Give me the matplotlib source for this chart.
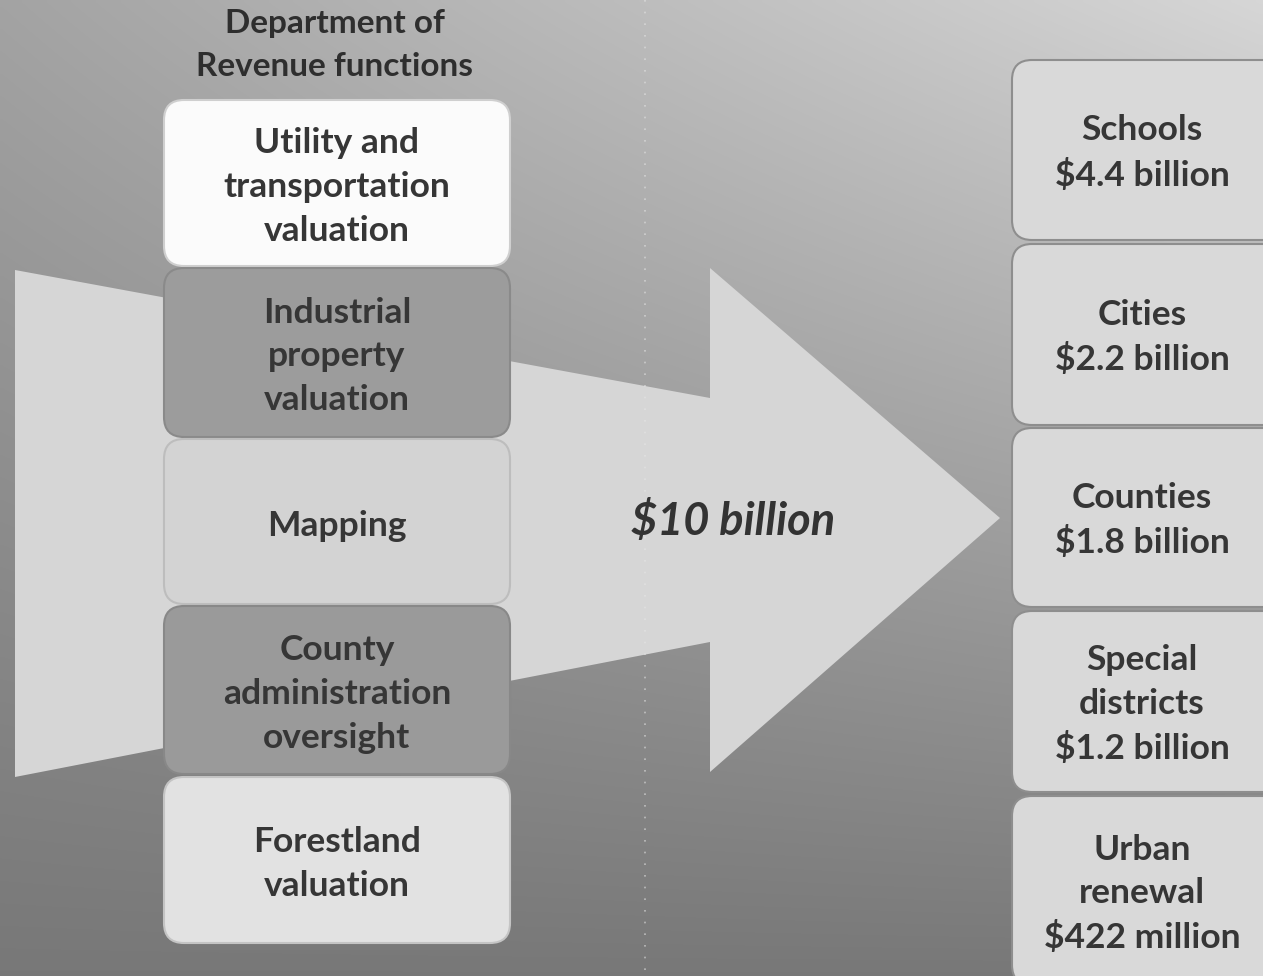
import numpy as np
import matplotlib
matplotlib.use("Agg")
import matplotlib.pyplot as plt
from matplotlib.patches import FancyBboxPatch, Polygon

# ---- content ----
title = "Department of\nRevenue functions"
functions = ["Utility and\ntransportation\nvaluation",
             "Industrial\nproperty\nvaluation",
             "Mapping",
             "County\nadministration\noversight",
             "Forestland\nvaluation"]
total_label = "$10 billion"
recipients = ["Schools", "Cities", "Counties", "Special\ndistricts", "Urban\nrenewal"]
amounts = ["$4.4 billion", "$2.2 billion", "$1.8 billion", "$1.2 billion", "$422 million"]

# ---- style ----
func_colors = ["#fbfbfb", "#9c9c9c", "#d3d3d3", "#9a9a9a", "#e2e2e2"]
func_edges = ["#cfcfcf", "#8a8a8a", "#bdbdbd", "#888888", "#c4c4c4"]
left_y = [(100, 266), (268, 437), (439, 604), (606, 774), (777, 943)]
right_y = [(60, 240), (244, 425), (428, 607), (611, 792), (796, 985)]
txt_color = "#363636"
FONT = "Lato"

W, H = 1263, 976
fig = plt.figure(figsize=(W / 100, H / 100), dpi=100)
ax = fig.add_axes([0, 0, 1, 1])
ax.set_xlim(0, W)
ax.set_ylim(H, 0)
ax.axis("off")

# background gradient
xx, yy = np.meshgrid(np.linspace(0, 1, 300), np.linspace(0, 1, 240))
v = 0.47 + 0.17 * (1 - yy) + 0.20 * xx * (1 - yy)
v = np.clip(v, 0, 1)
ax.imshow(np.dstack([v, v, v]), extent=[0, W, H, 0], aspect="auto", zorder=0,
          interpolation="bilinear")

# big arrow/funnel
arrow = Polygon([(15, 270), (710, 398), (710, 268), (1000, 518),
                 (710, 772), (710, 642), (15, 777)],
                closed=True, facecolor="#d6d6d6", edgecolor="none", zorder=1)
ax.add_patch(arrow)

# faint dotted divider
ax.plot([645, 645], [0, 976], color="#e6e6e6", lw=1.2, ls=(0, (1, 6)), alpha=0.6, zorder=1)

# title
ax.text(335, 45, title, ha="center", va="center", fontsize=24, fontweight="bold",
        family=FONT, color="#2e2e2e", linespacing=1.55, zorder=5)

# left boxes
for lab, (y0, y1), fc, ec in zip(functions, left_y, func_colors, func_edges):
    p = FancyBboxPatch((164, y0), 346, y1 - y0,
                       boxstyle="round,pad=0,rounding_size=20",
                       facecolor=fc, edgecolor=ec, lw=1.5, zorder=3)
    ax.add_patch(p)
    ax.text(337, (y0 + y1) / 2 + 4, lab, ha="center", va="center", fontsize=25.5,
            fontweight="bold", family=FONT, color=txt_color, linespacing=1.45, zorder=5)

# total
ax.text(733, 521, total_label, ha="center", va="center", fontsize=32.5,
        fontweight="bold", fontstyle="italic", family=FONT, color="#333333", zorder=5)

# right boxes
for name, amt, (y0, y1) in zip(recipients, amounts, right_y):
    p = FancyBboxPatch((1012, y0), 290, y1 - y0,
                       boxstyle="round,pad=0,rounding_size=20",
                       facecolor="#d9d9d9", edgecolor="#8e8e8e", lw=1.5, zorder=3)
    ax.add_patch(p)
    yc = (y0 + y1) / 2
    if y1 > H:
        yc = (y0 + H) / 2 + 5
    ax.text(1142, yc + 3, name + "\n" + amt, ha="center", va="center", fontsize=25.5,
            fontweight="bold", family=FONT, color=txt_color, linespacing=1.45, zorder=5)

fig.savefig("out.png", dpi=100)
